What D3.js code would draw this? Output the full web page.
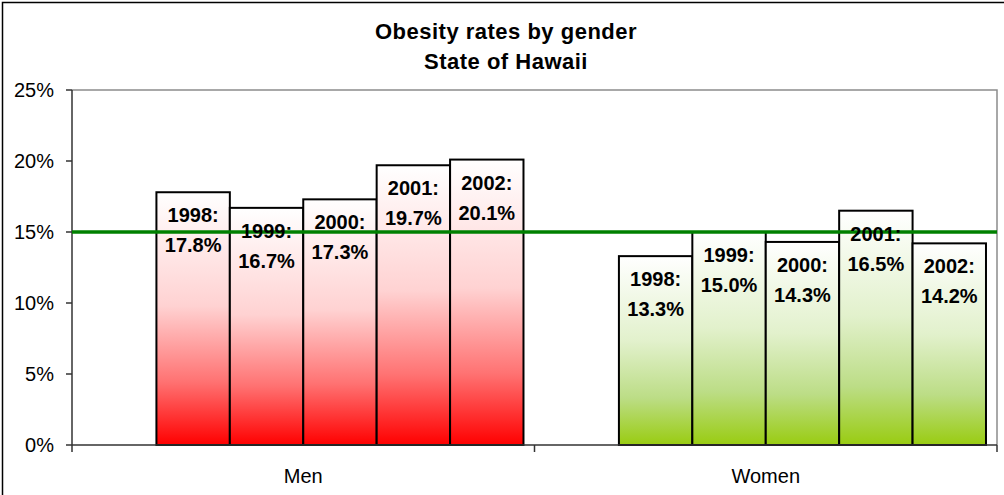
<html>
<head>
  <title>Obesity rates by gender</title>
  <script src="https://d3js.org/d3.v7.min.js"></script>
  <style type="text/css">
    body { margin: 0; background: #fff; }
    svg text { font-family: "Liberation Sans", Arial, sans-serif; fill: #000; }
    .title { font-size: 22px; font-weight: bold; letter-spacing: 0.5px; }
    .tick-label { font-size: 20px; }
    .bar-label { font-size: 20px; font-weight: bold; }
  </style>
</head>
<body>
  <svg id="chart" width="1004" height="495"></svg>

  <script type="text/javascript">
    // data
    var categories = ["Men", "Women"];
    var years = ["1998", "1999", "2000", "2001", "2002"];
    var menValues = [17.8, 16.7, 17.3, 19.7, 20.1];
    var womenValues = [13.3, 15.0, 14.3, 16.5, 14.2];
    var targetValue = 15;
    var yTicks = [0, 5, 10, 15, 20, 25];
    var titleLines = ["Obesity rates by gender", "State of Hawaii"];

    var seriesByCategory = { Men: menValues, Women: womenValues };

    var svg = d3.select("#chart");

    // outer chart frame (right and bottom edges fall outside the picture)
    svg.append("rect")
      .attr("x", 2.5).attr("y", 2.5)
      .attr("width", 1010).attr("height", 500)
      .attr("fill", "white")
      .attr("stroke", "#000")
      .attr("stroke-width", 1.5);

    var plot = { left: 72, right: 997, top: 90, bottom: 445 };

    var y = d3.scaleLinear()
      .domain([0, 25])
      .range([plot.bottom, plot.top]);

    var x = d3.scaleBand()
      .domain(categories)
      .range([plot.left, plot.right])
      .padding(0);

    // first slot in each group is left empty, as in the original
    var slot = d3.scaleBand()
      .domain([""].concat(years))
      .range([0, x.bandwidth()])
      .paddingInner(0)
      .paddingOuter(0.15);

    // gradients, one per gender, stretched over each bar
    var defs = svg.append("defs");
    var gradStops = {
      Men: [["0%", "#ffffff"], ["45%", "#ffd2d2"], ["75%", "#ff7272"], ["100%", "#ff0000"]],
      Women: [["0%", "#ffffff"], ["45%", "#e2f1cc"], ["75%", "#bcdd86"], ["100%", "#99cc11"]]
    };
    categories.forEach(function(c) {
      var g = defs.append("linearGradient")
        .attr("id", "grad-" + c)
        .attr("x1", "0%").attr("y1", "0%")
        .attr("x2", "0%").attr("y2", "100%");
      gradStops[c].forEach(function(s) {
        g.append("stop").attr("offset", s[0]).attr("stop-color", s[1]);
      });
    });

    // plot area border (top + right)
    svg.append("path")
      .attr("d", "M" + plot.left + "," + plot.top + "H" + plot.right + "V" + plot.bottom)
      .attr("fill", "none")
      .attr("stroke", "#8c8c8c")
      .attr("stroke-width", 1.5);

    // bars
    var bars = [];
    categories.forEach(function(c) {
      seriesByCategory[c].forEach(function(v, i) {
        bars.push({ cat: c, year: years[i], value: v });
      });
    });

    svg.append("g").selectAll("rect")
      .data(bars)
      .enter().append("rect")
      .attr("x", function(d) { return x(d.cat) + slot(d.year); })
      .attr("y", function(d) { return y(d.value); })
      .attr("width", slot.bandwidth())
      .attr("height", function(d) { return y(0) - y(d.value); })
      .attr("fill", function(d) { return "url(#grad-" + d.cat + ")"; })
      .attr("stroke", "#000")
      .attr("stroke-width", 2);

    // y axis
    var yAxis = svg.append("g");
    yAxis.append("line")
      .attr("x1", plot.left).attr("x2", plot.left)
      .attr("y1", plot.top).attr("y2", plot.bottom)
      .attr("stroke", "#333").attr("stroke-width", 1.5);
    yAxis.selectAll("line.tick")
      .data(yTicks)
      .enter().append("line")
      .attr("class", "tick")
      .attr("x1", plot.left - 6).attr("x2", plot.left)
      .attr("y1", function(d) { return y(d); })
      .attr("y2", function(d) { return y(d); })
      .attr("stroke", "#333").attr("stroke-width", 1.5);
    yAxis.selectAll("text")
      .data(yTicks)
      .enter().append("text")
      .attr("class", "tick-label")
      .attr("x", 54)
      .attr("y", function(d) { return y(d); })
      .attr("dy", "0.35em")
      .attr("text-anchor", "end")
      .text(function(d) { return d + "%"; });

    // x axis
    var xAxis = svg.append("g");
    xAxis.append("line")
      .attr("x1", plot.left).attr("x2", plot.right)
      .attr("y1", plot.bottom).attr("y2", plot.bottom)
      .attr("stroke", "#333").attr("stroke-width", 1.5);
    var xTickPos = categories.map(function(c) { return x(c); }).concat([plot.right]);
    xAxis.selectAll("line.tick")
      .data(xTickPos)
      .enter().append("line")
      .attr("class", "tick")
      .attr("x1", function(d) { return d; }).attr("x2", function(d) { return d; })
      .attr("y1", plot.bottom).attr("y2", plot.bottom + 7)
      .attr("stroke", "#333").attr("stroke-width", 1.5);
    xAxis.selectAll("text")
      .data(categories)
      .enter().append("text")
      .attr("class", "tick-label")
      .attr("x", function(d) { return x(d) + x.bandwidth() / 2; })
      .attr("y", 483)
      .attr("text-anchor", "middle")
      .text(function(d) { return d; });

    // 15% target line
    svg.append("line")
      .attr("x1", plot.left).attr("x2", plot.right)
      .attr("y1", y(targetValue)).attr("y2", y(targetValue))
      .attr("stroke", "#008000")
      .attr("stroke-width", 3.5);

    // bar labels, two lines inside the top of each bar
    var labels = svg.append("g").selectAll("text")
      .data(bars)
      .enter().append("text")
      .attr("class", "bar-label")
      .attr("text-anchor", "middle");
    labels.append("tspan")
      .attr("x", function(d) { return x(d.cat) + slot(d.year) + slot.bandwidth() / 2; })
      .attr("y", function(d) { return y(d.value) + 30; })
      .text(function(d) { return d.year + ":"; });
    labels.append("tspan")
      .attr("x", function(d) { return x(d.cat) + slot(d.year) + slot.bandwidth() / 2; })
      .attr("y", function(d) { return y(d.value) + 60; })
      .text(function(d) { return d.value.toFixed(1) + "%"; });

    // title
    svg.append("g").selectAll("text")
      .data(titleLines)
      .enter().append("text")
      .attr("class", "title")
      .attr("x", 506)
      .attr("y", function(d, i) { return 39 + i * 30; })
      .attr("text-anchor", "middle")
      .text(function(d) { return d; });
  </script>
</body>
</html>
